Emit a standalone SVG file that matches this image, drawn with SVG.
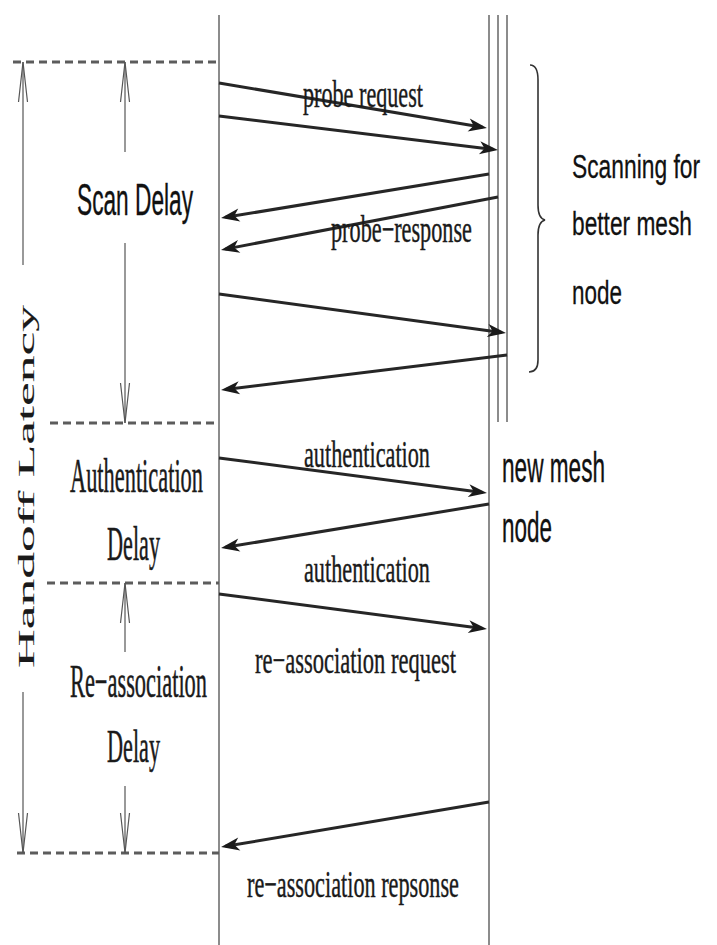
<svg xmlns="http://www.w3.org/2000/svg" width="717" height="945" viewBox="0 0 717 945">
<style>
.life{stroke:#666;stroke-width:1.5;fill:none}
.dash{stroke:#5c5c5c;stroke-width:3;stroke-dasharray:8 5;fill:none}
.dim{stroke:#555;stroke-width:1.2;fill:none}
.msg{stroke:#262626;stroke-width:3;fill:none;marker-end:url(#fa)}
.serif{font-family:"Liberation Serif","Times New Roman",serif;fill:#1a1a1a;stroke:#1a1a1a;stroke-width:0.25}
.sans{font-family:"Liberation Sans",Arial,sans-serif;fill:#111;stroke:#111;stroke-width:0.2}
.brace{stroke:#333;stroke-width:1.6;fill:none}
</style>
<defs>
<marker id="fa" markerUnits="userSpaceOnUse" viewBox="-16 -7 22 14" refX="0" refY="0" markerWidth="22" markerHeight="14" orient="auto">
<path d="M4.5,0 L-14,-6.5 L-9,0 L-14,6.5 z" fill="#1a1a1a"/>
</marker>
<marker id="va" markerUnits="userSpaceOnUse" viewBox="-42 -6 44 12" refX="0" refY="0" markerWidth="44" markerHeight="12" orient="auto-start-reverse">
<path d="M-40,-4.5 L0,0 L-40,4.5" fill="none" stroke="#555" stroke-width="1.2"/>
</marker>
</defs>
<rect width="717" height="945" fill="#fff"/>

<g id="lifelines">
<line class="life" x1="219" y1="15" x2="219" y2="945"/>
<line class="life" x1="489" y1="15" x2="489" y2="945"/>
<line class="life" x1="498" y1="15" x2="498" y2="422"/>
<line class="life" x1="507" y1="15" x2="507" y2="422"/>
</g>

<g id="boundaries">
<line class="dash" x1="13" y1="62" x2="219" y2="62"/>
<line class="dash" x1="50" y1="423" x2="219" y2="423"/>
<line class="dash" x1="47" y1="583" x2="219" y2="583"/>
<line class="dash" x1="17" y1="853" x2="219" y2="853"/>
</g>

<g id="handoff-latency">
<line class="dim" x1="23" y1="62" x2="23" y2="265" marker-start="url(#va)"/>
<line class="dim" x1="23" y1="692" x2="23" y2="853" marker-end="url(#va)"/>
<text class="serif" transform="translate(34,668) rotate(-90) scale(1,0.43)" font-size="53.4" textLength="363" lengthAdjust="spacingAndGlyphs">Handoff Latency</text>
</g>

<g id="scan-delay">
<line class="dim" x1="125" y1="62" x2="125" y2="152" marker-start="url(#va)"/>
<line class="dim" x1="125" y1="243" x2="125" y2="423" marker-end="url(#va)"/>
<text class="sans" transform="translate(77,215) scale(1,1.94)" font-size="22.7" textLength="116" lengthAdjust="spacingAndGlyphs">Scan Delay</text>
</g>

<g id="authentication-delay">
<text class="serif" transform="translate(70,492) scale(1,2.12)" font-size="22.4" textLength="133" lengthAdjust="spacingAndGlyphs">Authentication</text>
<text class="serif" transform="translate(107,560) scale(1,2.12)" font-size="22.4" textLength="53" lengthAdjust="spacingAndGlyphs">Delay</text>
</g>

<g id="reassociation-delay">
<line class="dim" x1="125" y1="583" x2="125" y2="652" marker-start="url(#va)"/>
<line class="dim" x1="125" y1="786" x2="125" y2="853" marker-end="url(#va)"/>
<text class="serif" transform="translate(70,697) scale(1,2.08)" font-size="22.4" textLength="137" lengthAdjust="spacingAndGlyphs">Re−association</text>
<text class="serif" transform="translate(107,762) scale(1,2.08)" font-size="22.4" textLength="53" lengthAdjust="spacingAndGlyphs">Delay</text>
</g>

<g id="scanning">
<path class="brace" d="M530,65 C536,65 538,70 538,80 L538,205 C538,214 541,219 545,220 C541,221 538,226 538,235 L538,360 C538,368 535,372 529,372"/>
<text class="sans" transform="translate(572,178) scale(1,1.42)" font-size="22.8" textLength="128" lengthAdjust="spacingAndGlyphs">Scanning for</text>
<text class="sans" transform="translate(572,235) scale(1,1.42)" font-size="22.8" textLength="120" lengthAdjust="spacingAndGlyphs">better mesh</text>
<text class="sans" transform="translate(572,304) scale(1,1.42)" font-size="22.8" textLength="50" lengthAdjust="spacingAndGlyphs">node</text>
</g>

<g id="new-mesh-node">
<text class="sans" transform="translate(502,482) scale(1,1.86)" font-size="22.6" textLength="103" lengthAdjust="spacingAndGlyphs">new mesh</text>
<text class="sans" transform="translate(502,542) scale(1,1.86)" font-size="22.6" textLength="50" lengthAdjust="spacingAndGlyphs">node</text>
</g>

<g id="connectors">
<line class="msg" x1="219" y1="83" x2="482.5" y2="127.3"/>
<line class="msg" x1="219" y1="116" x2="493.5" y2="149.5"/>
<line class="msg" x1="489" y1="174" x2="225.5" y2="217.3"/>
<line class="msg" x1="498" y1="197" x2="225.4" y2="249.1"/>
<line class="msg" x1="219" y1="294" x2="501.5" y2="332.4"/>
<line class="msg" x1="507" y1="355" x2="225.5" y2="389.4"/>
<line class="msg" x1="219" y1="458" x2="482.5" y2="492.4"/>
<line class="msg" x1="489" y1="504" x2="225.5" y2="547.3"/>
<line class="msg" x1="219" y1="594" x2="482.5" y2="628.4"/>
<line class="msg" x1="489" y1="802" x2="225.5" y2="846.3"/>
</g>

<g id="message-labels">
<text class="serif" transform="translate(303,107) scale(1,1.7)" font-size="22.2" textLength="120" lengthAdjust="spacingAndGlyphs">probe request</text>
<text class="serif" transform="translate(331,242) scale(1,1.7)" font-size="22.2" textLength="141" lengthAdjust="spacingAndGlyphs">probe−response</text>
<text class="serif" transform="translate(304,467) scale(1,1.7)" font-size="22.2" textLength="126" lengthAdjust="spacingAndGlyphs">authentication</text>
<text class="serif" transform="translate(304,582) scale(1,1.7)" font-size="22.2" textLength="126" lengthAdjust="spacingAndGlyphs">authentication</text>
<text class="serif" transform="translate(255,673) scale(1,1.7)" font-size="22.4" textLength="201" lengthAdjust="spacingAndGlyphs">re−association request</text>
<text class="serif" transform="translate(247,897) scale(1,1.7)" font-size="22.2" textLength="212" lengthAdjust="spacingAndGlyphs">re−association repsonse</text>
</g>
</svg>
